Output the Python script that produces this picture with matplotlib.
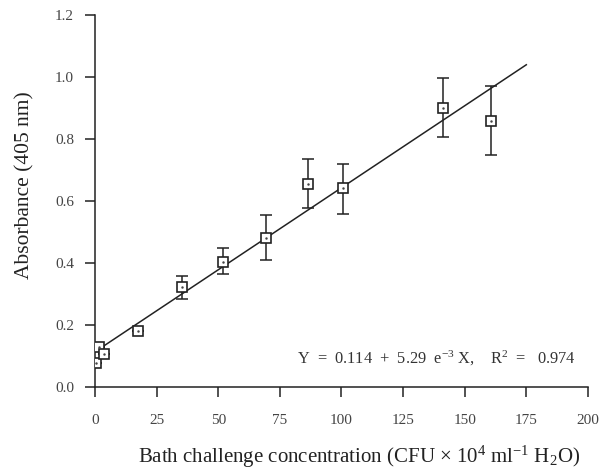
import matplotlib
matplotlib.use("Agg")
import matplotlib.pyplot as plt
import numpy as np

# Data
conc = [0.5, 1.5, 3.8, 17.3, 35.3, 52.0, 69.5, 86.5, 100.5, 141.0, 160.5]
absorb = [0.077, 0.13, 0.106, 0.18, 0.322, 0.405, 0.48, 0.655, 0.642, 0.90, 0.858]
err_lo = [0.0, 0.0, 0.0, 0.0, 0.037, 0.04, 0.07, 0.078, 0.082, 0.094, 0.108]
err_hi = [0.0, 0.0, 0.0, 0.0, 0.035, 0.045, 0.075, 0.08, 0.078, 0.098, 0.112]
fit_intercept = 0.114
fit_slope = 5.29e-3
fit_range = [1.0, 175.0]
xticks = [0, 25, 50, 75, 100, 125, 150, 175, 200]
yticks = [0.0, 0.2, 0.4, 0.6, 0.8, 1.0, 1.2]

plt.rcParams['font.family'] = ['Liberation Serif', 'DejaVu Serif']
plt.rcParams['mathtext.fontset'] = 'custom'
plt.rcParams['mathtext.rm'] = 'Liberation Serif'
plt.rcParams['mathtext.it'] = 'Liberation Serif:italic'
plt.rcParams['mathtext.default'] = 'rm'

fig = plt.figure(figsize=(6.03, 4.71), dpi=100)
ax = fig.add_axes([0.1575, 0.178, 0.8175, 0.79])

xf = np.array(fit_range)
ax.plot(xf, fit_intercept + fit_slope * xf, color='#222222', lw=1.1, zorder=2)

ax.errorbar(conc, absorb, yerr=[err_lo, err_hi], fmt='none', ecolor='#222222',
            elinewidth=1.1, capsize=4, capthick=1.1, zorder=3)
ax.plot(conc, absorb, linestyle='none', marker='s', ms=6.5, mfc='white',
        mec='#222222', mew=1.2, zorder=4)
ax.plot(conc, absorb, linestyle='none', marker='.', ms=1.5, color='#444444', zorder=5)

ax.set_xlim(0, 200)
ax.set_ylim(0, 1.2)
ax.set_xticks(xticks)
ax.set_yticks(yticks)
ax.set_xticklabels([str(t) for t in xticks])
ax.set_yticklabels([f"{t:.1f}" for t in yticks])
for s in ['top', 'right']:
    ax.spines[s].set_visible(False)
for s in ['left', 'bottom']:
    ax.spines[s].set_color('#222222')
    ax.spines[s].set_linewidth(1.1)
ax.tick_params(axis='both', direction='out', length=7, width=1.1, color='#222222',
               labelsize=11, labelcolor='#444444')
ax.tick_params(axis='x', pad=12)
ax.tick_params(axis='y', pad=8)

ax.set_xlabel('Bath challenge concentration (CFU × 10$^{4}$ ml$^{-1}$ H$_{2}$O)',
              fontsize=15, color='#222222', va='baseline')
ax.xaxis.set_label_coords(0.535, -0.204)
ax.set_ylabel('Absorbance (405 nm)', fontsize=15.5, color='#222222')
ax.yaxis.set_label_coords(-0.122, 0.543)

ax.text(82, 0.094, 'Y  =  0.114  +  5.29  e$^{-3}$ X,    R$^{2}$  =   0.974',
        fontsize=11.8, color='#333333', ha='left', va='center')

fig.savefig('out.png', dpi=100)
